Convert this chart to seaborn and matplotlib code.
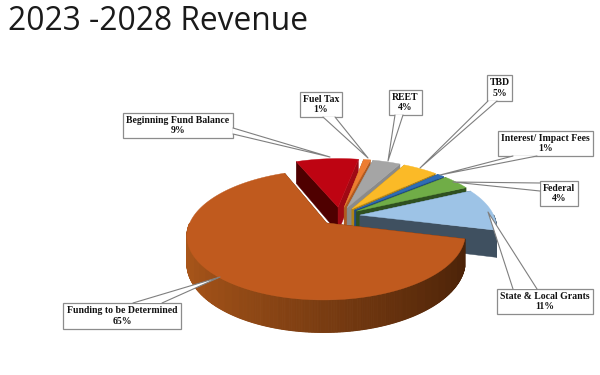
import numpy as np
import matplotlib
matplotlib.use("Agg")
import matplotlib.pyplot as plt
import seaborn as sns

names = ["Funding to be Determined", "Beginning Fund Balance", "Fuel Tax", "REET", "TBD",
         "Interest/ Impact Fees", "Federal", "State & Local Grants"]
shares = [65, 9, 1, 4, 5, 1, 4, 11]
top_colors = ["#C05A1E", "#BE0412", "#ED7D31", "#A5A5A5", "#FBBA27", "#2F6DB5", "#70AD47", "#9DC3E6"]
near_wall = ["#5A2A0C", "#4F0000", "#B05A20", "#7A7A7A", "#B08418", "#1F4A80", "#2F5020", "#3F5060"]
far_wall = ["#5A2A0C", "#A00A14", "#B05A20", "#8A8A8A", "#B08418", "#1F4A80", "#2F5020", "#3F5060"]
arc_wall = ["#5A2A0C", "#8E0A12", "#B05A20", "#7A7A7A", "#B08418", "#1F4A80", "#2F5020", "#3F5060"]

# projection settings
CX, CY = 340, 216
A, K, P, H = 134, 60.3, 0.18, 26
START = 14
EXPLODE = 0.15

# label layout: box (x0, y0, x1, y1), leader base a, leader base b, leader tip
boxes = [(63, 303, 181, 329), (123, 113, 233, 138), (300, 92, 342, 117), (389, 90, 422, 115),
         (487, 75, 512, 101), (498, 131, 593, 156), (540, 181, 578, 206), (497, 289, 593, 314)]
bases = [((133, 303), (162, 303)), ((233, 128), (233, 134)), ((323, 117), (335, 117)), ((395, 115), (403, 115)),
         ((488, 101), (497, 101)), ((513, 156), (537, 156)), ((540, 183), (540, 191)), ((513, 289), (537, 289))]
tips = [(220, 277), (330, 157), (368, 158), (388, 161), (420, 168), (440, 175), (453, 182), (488, 212)]

sns.set_theme(style="white")
fig = plt.figure(figsize=(6, 3.75), dpi=100)
ax = fig.add_axes([0, 0, 1, 1])
ax.set_xlim(0, 600)
ax.set_ylim(375, 0)
ax.axis("off")

gradient = sns.blend_palette(["#A9561A", "#4A2208"], 41)


def project(x, y, h=0.0):
    s = 1 / (1 - y * P)
    return CX + x * A * s, CY + y * K * s + h * H * s


def draw_slice(i, a0, a1, z):
    mid = np.radians((a0 + a1) / 2)
    ox, oy = EXPLODE * np.cos(mid), EXPLODE * np.sin(mid)
    th = np.radians(np.linspace(a0, a1, max(8, int((a1 - a0) * 2))))
    xs, ys = ox + np.cos(th), oy + np.sin(th)

    for ang, col in ((a0, near_wall[i]), (a1, far_wall[i])):
        r = np.radians(ang)
        ex, ey = ox + np.cos(r), oy + np.sin(r)
        pts = [project(ox, oy), project(ex, ey), project(ex, ey, 1), project(ox, oy, 1)]
        ax.fill(*zip(*pts), color=col, lw=0.3, zorder=z)

    for j in range(len(th) - 1):
        t_mid = (th[j] + th[j + 1]) / 2
        if np.sin(t_mid) < 0:
            continue
        if i == 0:
            f = (1 - np.cos(t_mid)) / 2
            c = gradient[int(round((1 - f) * 40))]
        else:
            c = arc_wall[i]
        pts = [project(xs[j], ys[j]), project(xs[j + 1], ys[j + 1]),
               project(xs[j + 1], ys[j + 1], 1), project(xs[j], ys[j], 1)]
        ax.fill(*zip(*pts), color=c, lw=0.7, zorder=z)

    top = [project(ox, oy)] + [project(x, y) for x, y in zip(xs, ys)]
    ax.fill(*zip(*top), color=top_colors[i], lw=0.3, zorder=z + 0.5)


edges = START + np.cumsum([0] + shares) * 3.6
for z, i in enumerate([1, 2, 3, 4, 5, 6, 7, 0]):
    draw_slice(i, edges[i], edges[i + 1], 10 + z)

for i, name in enumerate(names):
    x0, y0, x1, y1 = boxes[i]
    ax.fill([x0, x1, x1, x0], [y0, y0, y1, y1], facecolor="white", edgecolor="#8c8c8c", lw=0.9, zorder=40)
    a, b = bases[i]
    ax.fill([a[0], tips[i][0], b[0]], [a[1], tips[i][1], b[1]], facecolor="white", edgecolor="none", zorder=41)
    ax.plot([a[0], tips[i][0], b[0]], [a[1], tips[i][1], b[1]], color="#7f7f7f", lw=0.8, zorder=42)
    ax.text((x0 + x1) / 2, (y0 + y1) / 2, f"{name}\n{shares[i]}%", ha="center", va="center",
            family="Liberation Serif", weight="bold", fontsize=7.0, color="#111111",
            linespacing=1.25, zorder=43)

ax.text(8, 21, "2023 -2028 Revenue", family="Open Sans", fontsize=22.9, color="#1a1a1a",
        ha="left", va="center")

fig.savefig("out.png", dpi=100)
